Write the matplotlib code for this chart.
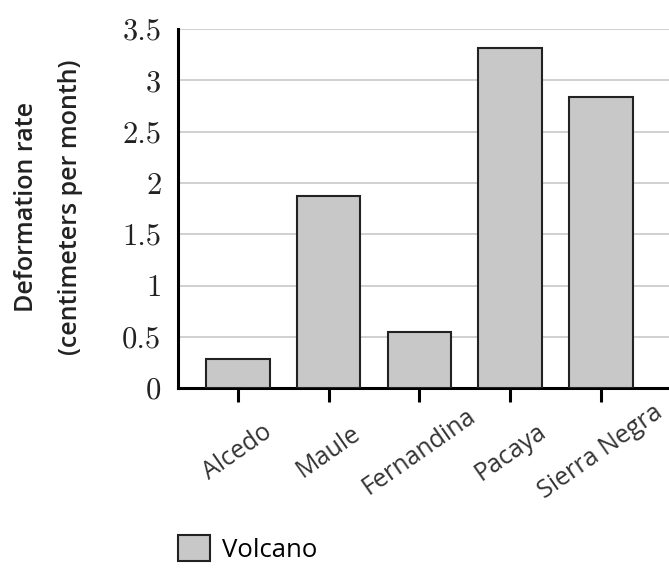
import matplotlib.pyplot as plt
from matplotlib.patches import Patch

volcanoes = ['Alcedo', 'Maule', 'Fernandina', 'Pacaya', 'Sierra Negra']
rates = [0.28, 1.87, 0.55, 3.32, 2.84]
y_ticks = [0, 0.5, 1, 1.5, 2, 2.5, 3, 3.5]
y_tick_labels = ['0', '0.5', '1', '1.5', '2', '2.5', '3', '3.5']

fig = plt.figure(figsize=(6.69, 5.70), dpi=100)
ax = fig.add_axes([0.266, 0.319, 0.734, 0.630])

x = list(range(len(volcanoes)))
ax.bar(x, rates, width=0.7, color='#c8c8c8', edgecolor='#222222', linewidth=1.5, zorder=3)

ax.set_xlim(-0.66, 4.75)
ax.set_ylim(0, 3.5)
ax.set_yticks(y_ticks)
ax.set_yticklabels(y_tick_labels, fontfamily='cmr10', fontsize=22, color='#222222')
ax.yaxis.grid(True, color='#c8c8c8', linewidth=1.2, zorder=0)
ax.tick_params(axis='y', length=0, pad=12)

ax.set_xticks(x)
ax.set_xticklabels(volcanoes, rotation=35, ha='center', va='center',
                   fontfamily='Open Sans', fontsize=18, color='#333333')
ax.tick_params(axis='x', length=10, width=2.2, direction='out', pad=36)

for s in ['top', 'right']:
    ax.spines[s].set_visible(False)
for s in ['left', 'bottom']:
    ax.spines[s].set_linewidth(2.2)
    ax.spines[s].set_color('black')

fig.text(0.040, 0.637, 'Deformation rate', rotation=90, ha='center', va='center',
         fontfamily='Open Sans', fontsize=18, fontweight='semibold', color='#222222')
fig.text(0.105, 0.637, '(centimeters per month)', rotation=90, ha='center', va='center',
         fontfamily='Open Sans', fontsize=18, fontweight='semibold', color='#222222')

handles = [Patch(facecolor='#c8c8c8', edgecolor='#222222', linewidth=1.5, label='Volcano')]
fig.legend(handles=handles, loc='center left', bbox_to_anchor=(0.266, 0.037),
           frameon=False, borderpad=0, borderaxespad=0, handlelength=1.25,
           handleheight=1.17, handletextpad=0.45,
           prop={'family': 'Open Sans', 'size': 18.5})

fig.savefig('out.png', dpi=100)
